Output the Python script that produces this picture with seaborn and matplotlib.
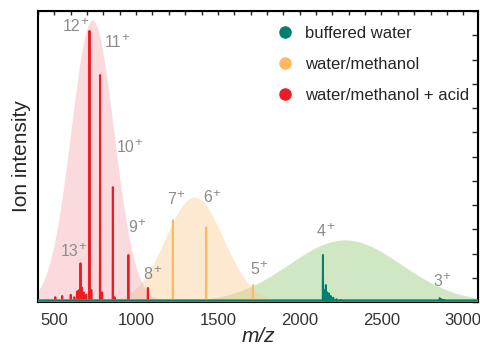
import numpy as np
import pandas as pd
import seaborn as sns
import matplotlib
matplotlib.use("Agg")
import matplotlib.pyplot as plt
from matplotlib.lines import Line2D
from matplotlib.ticker import MultipleLocator

# ---------------- data ----------------
series_names = ["buffered water", "water/methanol", "water/methanol + acid"]
series_colors = ["#00806d", "#fdb863", "#ed1c24"]
fill_colors = ["#a3d18a", "#fbc98a", "#f2a0a8"]
fill_alpha = [0.5, 0.4, 0.38]

# stick spectra (m/z, relative intensity)
acid_mz = [506, 548, 600, 622, 641, 652, 659.8, 668, 680, 695, 714.8, 726, 779.6, 792, 857.5, 868, 952.7, 1071.6]
acid_int = [0.02, 0.025, 0.03, 0.02, 0.045, 0.05, 0.16, 0.06, 0.04, 0.03, 1.118, 0.05, 0.936, 0.04, 0.474, 0.02, 0.194, 0.058]

meoh_mz = [1224.5, 1428.4, 1714.0, 2148, 2856]
meoh_int = [0.338, 0.309, 0.07, 0.012, 0.008]

buf_mz = [2142.0, 2150, 2160, 2168, 2178, 2190, 2205, 2225, 2250, 2856, 2866, 2880, 2900]
buf_int = [0.194, 0.05, 0.07, 0.04, 0.035, 0.025, 0.018, 0.012, 0.008, 0.016, 0.012, 0.009, 0.006]

# Gaussian envelopes: centre (m/z), sigma (m/z), height
env_center = [2276, 1356, 732]
env_sigma = [344, 177, 131]
env_height = [0.256, 0.433, 1.163]

# charge-state labels: text, m/z, y (baseline of text)
label_text = ["12", "11", "10", "9", "13", "8", "7", "6", "5", "4", "3"]
label_mz = [549, 807, 879, 952, 537, 1046, 1189, 1413, 1698, 2106, 2818]
label_y = [1.118, 1.053, 0.62, 0.29, 0.19, 0.094, 0.404, 0.411, 0.115, 0.273, 0.066]

x_ticks = [500, 1000, 1500, 2000, 2500, 3000]
x_range = [400, 3090]
baseline = 0.006

# ---------------- style ----------------
sns.set_style("white")
plt.rcParams["font.family"] = ["Liberation Sans", "DejaVu Sans"]
plt.rcParams["mathtext.fontset"] = "custom"
plt.rcParams["mathtext.rm"] = "Liberation Sans"
plt.rcParams["mathtext.it"] = "Liberation Sans:italic"
plt.rcParams["mathtext.bf"] = "Liberation Sans:bold"

fig = plt.figure(figsize=(4.8, 3.49), dpi=100)
ax = fig.add_axes([38 / 480, 1 - 302 / 349, 440 / 480, 291 / 349])

# envelopes
xx = np.linspace(x_range[0], x_range[1], 800)
for c, s, h, fc, a in zip(env_center, env_sigma, env_height, fill_colors, fill_alpha):
    yy = h * np.exp(-0.5 * ((xx - c) / s) ** 2)
    ax.fill_between(xx, 0, yy, color=fc, alpha=a, lw=0, zorder=1)


def stick_frame(mz, inten):
    xs, ys = [x_range[0]], [baseline]
    for m, v in sorted(zip(mz, inten)):
        xs += [m - 1.5, m, m + 1.5]
        ys += [baseline, v, baseline]
    xs.append(x_range[1])
    ys.append(baseline)
    return pd.DataFrame({"mz": xs, "I": ys})


spectra = [(acid_mz, acid_int, series_colors[2]),
           (meoh_mz, meoh_int, series_colors[1]),
           (buf_mz, buf_int, series_colors[0])]
for mz, inten, col in spectra:
    df = stick_frame(mz, inten)
    sns.lineplot(data=df, x="mz", y="I", sort=False, estimator=None,
                 color=col, lw=1.4, ax=ax, zorder=3)
ax.axhline(baseline, color=series_colors[0], lw=2.2, zorder=2.9)

# charge-state labels (digits + raised plus sign)
for t, m, y in zip(label_text, label_mz, label_y):
    txt = ax.text(m, y, t, color="#8c8c8c", fontsize=11.5,
                  ha="left", va="baseline", zorder=4)
    ax.annotate("+", xy=(1, 1), xycoords=txt, xytext=(0.2, 2.0),
                textcoords="offset points", color="#8c8c8c", fontsize=9.5,
                ha="left", va="top", zorder=4)

# axes
ax.set_xlim(*x_range)
ax.set_ylim(0, 1.2)
ax.set_xticks(x_ticks)
ax.xaxis.set_minor_locator(MultipleLocator(100))
ax.set_yticks([])
ax.tick_params(axis="x", which="major", direction="out", length=5, width=1.2,
               labelsize=12, labelcolor="#333333", pad=3)
ax.tick_params(axis="x", which="minor", direction="out", length=3, width=1.0)
ax.set_xlabel("m/z", fontsize=15, style="italic", labelpad=-1)
ax.set_ylabel("Ion intensity", fontsize=15, labelpad=5)
for sp in ax.spines.values():
    sp.set_visible(True)
    sp.set_color("black")
    sp.set_linewidth(1.5)

top = ax.secondary_xaxis("top")
top.set_xticks(list(range(400, 3100, 100)))
top.tick_params(direction="in", length=3, width=1.0, labeltop=False)
top.set_xticklabels([])
right = ax.secondary_yaxis("right")
right.set_yticks([i / 10 for i in range(0, 13)])
right.tick_params(direction="in", length=4, width=1.0)
right.set_yticklabels([])

# legend
handles = [Line2D([0], [0], marker="o", ls="", markersize=8,
                  markerfacecolor=c, markeredgecolor=c) for c in series_colors]
ax.legend(handles, series_names, loc="upper left", bbox_to_anchor=(268 / 480, 1 - 18 / 349),
          bbox_transform=fig.transFigure, frameon=False, fontsize=12,
          handlelength=1.0, handletextpad=0.7, labelspacing=0.95, borderpad=0)

fig.savefig("out.png", dpi=100)
